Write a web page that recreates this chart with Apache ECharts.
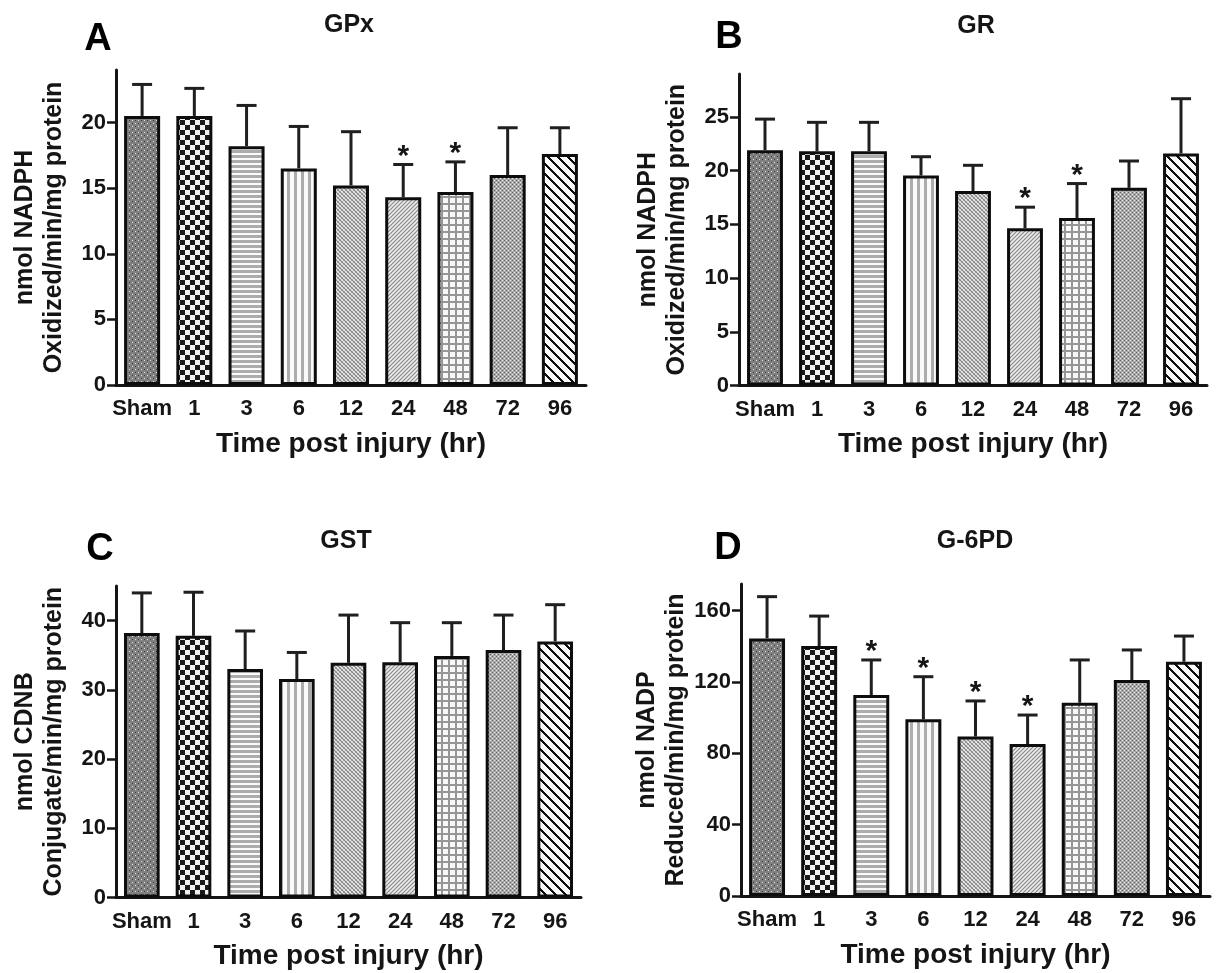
<!DOCTYPE html>
<html><head><meta charset="utf-8">
<script src="https://cdn.jsdelivr.net/npm/echarts@6/dist/echarts.min.js"></script>
<style>html,body{margin:0;padding:0;background:#fff}#c{width:1217px;height:973px}</style>
</head><body><div id="c"></div>
<script>
// ---- data ----
const categories = ['Sham', '1', '3', '6', '12', '24', '48', '72', '96'];

const gpxMean = [20.5, 20.5, 18.2, 16.5, 15.2, 14.3, 14.7, 16.0, 17.6];
const gpxErr  = [2.4, 2.1, 3.1, 3.2, 4.1, 2.5, 2.3, 3.6, 2.0];
const gpxSig  = [0, 0, 0, 0, 0, 1, 1, 0, 0];
const gpxTicks = [0, 5, 10, 15, 20];

const grMean = [21.9, 21.8, 21.8, 19.55, 18.1, 14.65, 15.6, 18.4, 21.6];
const grErr  = [2.9, 2.7, 2.7, 1.75, 2.4, 1.95, 3.2, 2.5, 5.1];
const grSig  = [0, 0, 0, 0, 0, 1, 1, 0, 0];
const grTicks = [0, 5, 10, 15, 20, 25];

const gstMean = [38.2, 37.8, 33.0, 31.55, 33.9, 34.0, 34.9, 35.75, 37.0];
const gstErr  = [5.8, 6.3, 5.5, 3.85, 6.9, 5.7, 4.8, 5.05, 5.3];
const gstSig  = [0, 0, 0, 0, 0, 0, 0, 0, 0];
const gstTicks = [0, 10, 20, 30, 40];

const g6pdMean = [144.5, 140.2, 112.7, 99.1, 89.4, 85.2, 108.4, 121.1, 131.4];
const g6pdErr  = [23.4, 16.8, 19.7, 23.9, 20.0, 16.3, 24.0, 16.9, 14.4];
const g6pdSig  = [0, 0, 1, 1, 1, 1, 0, 0, 0];
const g6pdTicks = [0, 40, 80, 120, 160];

// ---- patterns ----
function tile(w, h, fn) {
  const c = document.createElement('canvas'); c.width = w; c.height = h;
  const ctx = c.getContext('2d'); const img = ctx.createImageData(w, h);
  for (let y = 0; y < h; y++) for (let x = 0; x < w; x++) {
    const v = fn(x, y); const i = (y * w + x) * 4;
    img.data[i] = img.data[i + 1] = img.data[i + 2] = v; img.data[i + 3] = 255;
  }
  ctx.putImageData(img, 0, 0);
  return { image: c, repeat: 'repeat' };
}
const patterns = [
  tile(6, 6, (x, y) => ((x === 0 && y === 0) || (x === 3 && y === 3)) ? 225 : ((x === 3 && y === 0) || (x === 0 && y === 3)) ? 60 : 128),
  tile(10, 10, (x, y) => ((Math.floor(x / 5) + Math.floor(y / 5)) % 2 === 0) ? 25 : 242),
  tile(5, 5, (x, y) => y < 3 ? 172 : 250),
  tile(7, 7, (x, y) => x < 3 ? 172 : 250),
  tile(4, 4, (x, y) => (x === y) ? 135 : (x + y === 3 ? 160 : ((x + y) % 2 === 0 ? 238 : 205))),
  tile(4, 4, (x, y) => ((x + y) % 4 === 3) ? 140 : ((x + y) % 4 === 1 ? 238 : 205)),
  tile(7, 7, (x, y) => (x < 2 || y < 2) ? 150 : 248),
  tile(4, 4, (x, y) => ((x === 0 && y === 0) || (x === 2 && y === 2)) ? 95 : ((x === 2 && y === 0) || (x === 0 && y === 2)) ? 230 : 170),
  tile(10, 10, (x, y) => (((x - y) % 10 + 10) % 10 < 3) ? 15 : 250)
];

// ---- panels ----
const FONT = 'Liberation Sans, Arial, Helvetica, sans-serif';
const INK = '#151515';
const panels = [
  { mean: gpxMean, err: gpxErr, sig: gpxSig, ticks: gpxTicks, max: 24, yName: 'nmol NADPH\nOxidized/min/mg protein',
    grid: { left: 116, top: 70, width: 470, height: 315 } },
  { mean: grMean, err: grErr, sig: grSig, ticks: grTicks, max: 29, yName: 'nmol NADPH\nOxidized/min/mg protein',
    grid: { left: 739, top: 74, width: 468, height: 311.5 } },
  { mean: gstMean, err: gstErr, sig: gstSig, ticks: gstTicks, max: 45, yName: 'nmol CDNB\nConjugate/min/mg protein',
    grid: { left: 116, top: 586, width: 465, height: 311.5 } },
  { mean: g6pdMean, err: g6pdErr, sig: g6pdSig, ticks: g6pdTicks, max: 175, yName: 'nmol NADP\nReduced/min/mg protein',
    grid: { left: 741, top: 584, width: 469, height: 312 } }
];
const titles = [
  { t: 'GPx', x: 349, y: 25 }, { t: 'GR', x: 976, y: 26 }, { t: 'GST', x: 346, y: 541 }, { t: 'G-6PD', x: 975, y: 541 }
];
const letters = [
  { t: 'A', x: 98, y: 40 }, { t: 'B', x: 729, y: 38 }, { t: 'C', x: 100, y: 550 }, { t: 'D', x: 728, y: 549 }
];

const option = {
  animation: false,
  backgroundColor: '#fff',
  grid: panels.map(p => Object.assign({ containLabel: false }, p.grid)),
  xAxis: panels.map((p, i) => ({
    type: 'category', gridIndex: i, data: categories,
    axisLine: { lineStyle: { color: INK, width: 3 } },
    axisTick: { alignWithLabel: true, length: 6, lineStyle: { color: INK, width: 2.5 } },
    axisLabel: { interval: 0, color: INK, fontFamily: FONT, fontWeight: 'bold', fontSize: 22, margin: 13 },
    name: 'Time post injury (hr)', nameLocation: 'middle', nameGap: 45,
    nameTextStyle: { color: INK, fontFamily: FONT, fontWeight: 'bold', fontSize: 28 }
  })),
  yAxis: panels.map((p, i) => ({
    type: 'value', gridIndex: i, min: 0, max: p.max,
    splitLine: { show: false },
    axisLine: { show: true, lineStyle: { color: INK, width: 3 } },
    axisTick: { show: true, length: 9, customValues: p.ticks, lineStyle: { color: INK, width: 2.5 } },
    axisLabel: { customValues: p.ticks, color: INK, fontFamily: FONT, fontWeight: 'bold', fontSize: 22, margin: 10 },
    name: p.yName, nameLocation: 'middle', nameRotate: 90, nameGap: 48,
    nameTextStyle: { color: INK, fontFamily: FONT, fontWeight: 'bold', fontSize: 25, lineHeight: 28.6, align: 'center' }
  })),
  series: [],
  graphic: []
};

panels.forEach((p, i) => {
  option.series.push({
    type: 'bar', xAxisIndex: i, yAxisIndex: i, barCategoryGap: '31%',
    data: p.mean.map((v, k) => ({ value: v, itemStyle: { color: patterns[k] } })),
    itemStyle: { borderColor: '#0d0d0d', borderWidth: 3 },
    z: 2
  });
  option.series.push({
    type: 'custom', xAxisIndex: i, yAxisIndex: i, z: 3,
    data: p.mean.map((v, k) => [k, v, v + p.err[k], p.sig[k]]),
    encode: { x: 0, y: [1, 2] },
    renderItem: (params, api) => {
      const k = api.value(0);
      const lo = api.coord([k, api.value(1)]);
      const hi = api.coord([k, api.value(2)]);
      const st = { stroke: '#1f1f1f', lineWidth: 3 };
      const ch = [
        { type: 'line', shape: { x1: lo[0], y1: lo[1], x2: hi[0], y2: hi[1] }, style: st },
        { type: 'line', shape: { x1: hi[0] - 10, y1: hi[1], x2: hi[0] + 10, y2: hi[1] }, style: st }
      ];
      if (api.value(3)) {
        ch.push({ type: 'text', x: hi[0], y: hi[1] - 8,
          style: { text: '*', font: 'bold 30px ' + FONT, fill: INK, textAlign: 'center', textVerticalAlign: 'middle' } });
      }
      return { type: 'group', children: ch };
    }
  });
});

titles.forEach(t => option.graphic.push({ type: 'text', x: t.x, y: t.y,
  style: { text: t.t, font: 'bold 25px ' + FONT, fill: INK, textAlign: 'center', textVerticalAlign: 'middle' } }));
letters.forEach(t => option.graphic.push({ type: 'text', x: t.x, y: t.y,
  style: { text: t.t, font: 'bold 38px ' + FONT, fill: '#000', textAlign: 'center', textVerticalAlign: 'middle' } }));

const chart = echarts.init(document.getElementById('c'));
chart.setOption(option);
</script>
</body></html>
